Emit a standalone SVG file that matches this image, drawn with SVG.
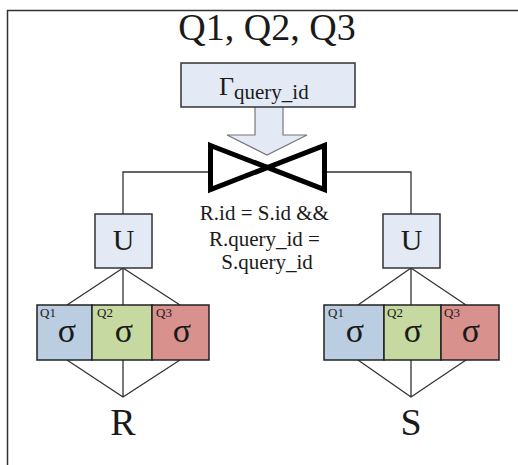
<svg xmlns="http://www.w3.org/2000/svg" width="518" height="465" viewBox="0 0 518 465">
<defs>
<style>
text{font-family:"Liberation Serif","Times New Roman",Times,serif;fill:#1a1a1a}
.box{fill:#e3eaf6;stroke:#333;stroke-width:1.5}
.ln{stroke:#333;stroke-width:1.3;fill:none}
.q1{fill:#bacde1}
.q2{fill:#c6d9a1}
.q3{fill:#d8918c}
.sg{stroke:#222;stroke-width:1.5}
</style>
</defs>
<rect width="518" height="465" fill="#fff"/>
<path d="M7.5 465 V10.5 H518" fill="none" stroke="#333" stroke-width="1.5"/>
<text x="267" y="40" font-size="38" text-anchor="middle">Q1, Q2, Q3</text>

<g id="connectors">
  <path class="ln" d="M208 172 H123 V214"/>
  <path class="ln" d="M327 172 H411 V214"/>
  <path class="ln" d="M123 268 L67 305 M123 268 V305 M123 268 L180 305"/>
  <path class="ln" d="M67 360 L123 397 L180 360 M123 360 V397"/>
  <path class="ln" d="M411 268 L358 305 M411 268 V305 M411 268 L466 305"/>
  <path class="ln" d="M358 360 L411 397 L466 360 M411 360 V397"/>
  <path d="M255 107 V135 H227 L267 155 L307 135 H283 V107" fill="#e3eaf6" stroke="#777" stroke-width="1.2"/>
</g>

<g id="group">
  <rect class="box" x="181" y="63" width="174" height="44"/>
  <text x="219" y="95" font-size="26">Γ<tspan font-size="21" dy="4">query_id</tspan></text>
</g>

<g id="join">
  <path d="M210.5 145.5 L324.5 189.5 V145.5 L210.5 189.5 Z" fill="none" stroke="#000" stroke-width="5" stroke-linejoin="miter"/>
  <text font-size="21" text-anchor="middle">
    <tspan x="267" y="220">R.id = S.id &amp;&amp;</tspan>
    <tspan x="267" y="246">R.query_id =</tspan>
    <tspan x="267" y="269">S.query_id</tspan>
  </text>
</g>

<g id="unionR">
  <rect class="box" x="95" y="214" width="57" height="54"/>
  <text x="123.5" y="250" font-size="30" text-anchor="middle">U</text>
</g>
<g id="unionS">
  <rect class="box" x="383" y="214" width="57" height="54"/>
  <text x="411.5" y="250" font-size="30" text-anchor="middle">U</text>
</g>

<g id="selR">
  <rect class="q1 sg" x="37" y="305" width="55" height="55"/>
  <rect class="q2 sg" x="92" y="305" width="60" height="55"/>
  <rect class="q3 sg" x="152" y="305" width="57" height="55"/>
  <text x="40" y="317" font-size="13">Q1</text>
  <text x="97" y="317" font-size="13">Q2</text>
  <text x="156" y="317" font-size="13">Q3</text>
  <text x="67" y="342" font-size="34" text-anchor="middle">σ</text>
  <text x="124" y="342" font-size="34" text-anchor="middle">σ</text>
  <text x="182" y="342" font-size="34" text-anchor="middle">σ</text>
</g>
<g id="selS">
  <rect class="q1 sg" x="324" y="305" width="60" height="55"/>
  <rect class="q2 sg" x="384" y="305" width="57" height="55"/>
  <rect class="q3 sg" x="441" y="305" width="58" height="55"/>
  <text x="328" y="317" font-size="13">Q1</text>
  <text x="387" y="317" font-size="13">Q2</text>
  <text x="444" y="317" font-size="13">Q3</text>
  <text x="355" y="342" font-size="34" text-anchor="middle">σ</text>
  <text x="413" y="342" font-size="34" text-anchor="middle">σ</text>
  <text x="471" y="342" font-size="34" text-anchor="middle">σ</text>
</g>

<g id="R">
  <text x="123" y="435" font-size="38" text-anchor="middle">R</text>
</g>
<g id="S">
  <text x="411" y="435" font-size="38" text-anchor="middle">S</text>
</g>
</svg>
